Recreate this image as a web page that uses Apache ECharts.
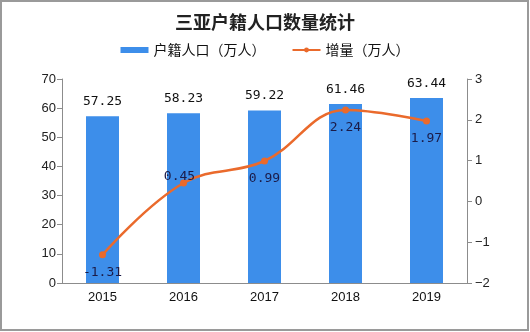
<!DOCTYPE html>
<html><head><meta charset="utf-8">
<script src="https://cdn.jsdelivr.net/npm/echarts@6/dist/echarts.min.js"></script>
<style>html,body{margin:0;padding:0;background:#fff}#c{width:530px;height:332px}</style>
</head><body><div id="c"></div>
<script>
const categories = ['2015','2016','2017','2018','2019'];
const population = [57.25, 58.23, 59.22, 61.46, 63.44];
const increase = [-1.31, 0.45, 0.99, 2.24, 1.97];
const leftTicks = [0, 70, 10];
const rightTicks = [-2, 3, 1];

const chart = echarts.init(document.getElementById('c'));
const axisColor = '#8c8c8c';
chart.setOption({
  animation: false,
  backgroundColor: '#fff',
  title: {
    text: '三亚户籍人口数量统计', left: 'center', top: 8,
    textStyle: {fontFamily: 'Noto Sans CJK SC', fontSize: 18, fontWeight: 'bold', color: '#222'}
  },
  legend: {
    top: 38, left: 'center', itemGap: 26, itemWidth: 28, itemHeight: 6,
    textStyle: {fontFamily: 'Noto Sans CJK SC', fontSize: 14, color: '#111'},
    data: [{name: '户籍人口（万人）', icon: 'rect'}, {name: '增量（万人）'}]
  },
  grid: {left: 62, right: 63, top: 79, bottom: 49},
  xAxis: {
    type: 'category', data: categories,
    axisLine: {lineStyle: {color: axisColor}},
    axisTick: {lineStyle: {color: axisColor}, length: 5},
    axisLabel: {color: '#111', fontFamily: 'Liberation Sans', fontSize: 13, margin: 8}
  },
  yAxis: [{
    type: 'value', min: leftTicks[0], max: leftTicks[1], interval: leftTicks[2],
    axisLine: {show: true, lineStyle: {color: axisColor}},
    axisTick: {show: true, lineStyle: {color: axisColor}, length: 5},
    splitLine: {show: false},
    axisLabel: {color: '#222', fontFamily: 'Liberation Sans', fontSize: 13, margin: 6}
  }, {
    type: 'value', min: rightTicks[0], max: rightTicks[1], interval: rightTicks[2],
    axisLine: {show: true, lineStyle: {color: axisColor}},
    axisTick: {show: true, lineStyle: {color: axisColor}, length: 5},
    splitLine: {show: false},
    axisLabel: {color: '#222', fontFamily: 'Liberation Sans', fontSize: 13, margin: 8,
      formatter: v => String(v).replace('-', '−')}
  }],
  series: [{
    name: '户籍人口（万人）', type: 'bar', data: population, barWidth: 33,
    itemStyle: {color: '#3D8EEA'},
    label: {show: true, position: 'top', distance: 8, color: '#111',
      fontFamily: 'DejaVu Sans Mono', fontSize: 13,
      formatter: p => p.value.toFixed(2)}
  }, {
    name: '增量（万人）', type: 'line', yAxisIndex: 1, data: increase.map((v, i) => ({
      value: v,
      label: i === 1 ? {position: 'inside', offset: [-4, -6]} : {position: 'bottom'}
    })),
    smooth: 0.4, symbol: 'circle', symbolSize: 7,
    lineStyle: {color: '#EA6A2C', width: 2.5},
    itemStyle: {color: '#EA6A2C'},
    label: {show: true, distance: 8, color: '#1b1b48',
      fontFamily: 'DejaVu Sans Mono', fontSize: 13,
      formatter: p => p.value.toFixed(2)}
  }],
  graphic: [{
    type: 'rect', shape: {x: 1, y: 1, width: 527, height: 329},
    style: {fill: 'none', stroke: '#9a9a9a', lineWidth: 2}, silent: true
  }]
});
</script></body></html>
